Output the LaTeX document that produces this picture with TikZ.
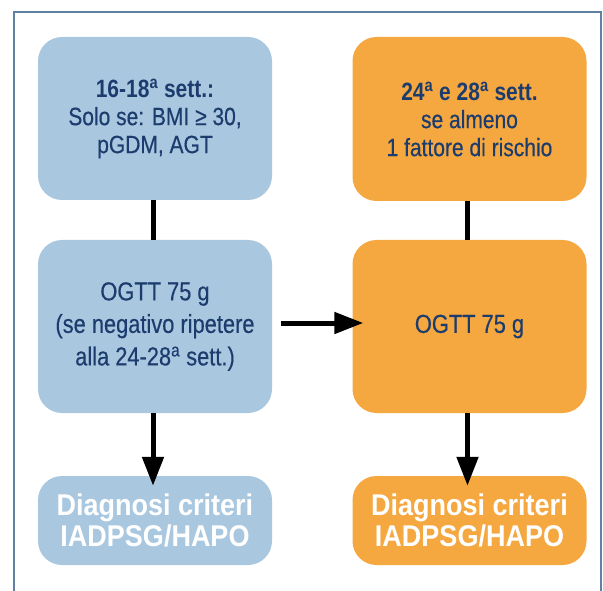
\documentclass[tikz,border=0pt]{standalone}
\usepackage{fontspec}
\setmainfont{Liberation Sans}[FakeStretch=0.84, UprightFeatures={FakeBold=0.4}]
\newfontfamily\diagfont{Liberation Sans}[FakeStretch=0.9]
\usetikzlibrary{arrows.meta}
\definecolor{boxblue}{HTML}{A9C8E0}
\definecolor{boxorange}{HTML}{F5A740}
\definecolor{txtnavy}{HTML}{1D3C6E}
\definecolor{framecol}{HTML}{5F82A3}
\tikzset{
  stepbox/.style={rounded corners=24pt, align=center, inner sep=0pt, text=txtnavy,
    font=\fontsize{25}{28}\selectfont, minimum width=234pt},
  bluebox/.style={stepbox, fill=boxblue},
  orangebox/.style={stepbox, fill=boxorange},
  endbox/.style={minimum height=89pt, text=white, font=\diagfont\fontsize{30}{31}\selectfont\bfseries},
  conn/.style={line width=5pt, black},
  arr/.style={conn, -{Triangle[length=29pt,width=21pt]}},
}
\begin{document}
\begin{tikzpicture}[x=1pt,y=-1pt]
\useasboundingbox (0,0) rectangle (603,591);
\begin{scope}
\clip (0,0) rectangle (603,591);
\draw[framecol, line width=2pt] (14,12) rectangle (601,620);
\end{scope}
% top row
\node[bluebox, minimum height=163pt] (b1) at (155,118.5)
  {\textbf{16-18\textsuperscript{a} sett.:}\\Solo se: BMI ≥ 30,\\pGDM, AGT};
\node[orangebox, minimum height=164pt] (o1) at (469.5,119)
  {\textbf{24\textsuperscript{a} e 28\textsuperscript{a} sett.}\\se almeno\\1 fattore di rischio};
% middle row
\node[bluebox, minimum height=173pt, font=\fontsize{26}{32.5}\selectfont] (b2) at (155,326.5)
  {OGTT 75 g\\(se negativo ripetere\\alla 24-28\textsuperscript{a} sett.)};
\node[orangebox, minimum height=173pt, font=\fontsize{26}{32.5}\selectfont] (o2) at (469.5,326.5) {OGTT 75 g};
% bottom row
\node[bluebox, endbox] (b3) at (155,520.5) {Diagnosi criteri\\IADPSG/HAPO};
\node[orangebox, endbox] (o3) at (469.5,520.5) {Diagnosi criteri\\IADPSG/HAPO};
% connectors
\draw[conn] ([xshift=-2pt]b1.south) -- ([xshift=-2pt]b2.north);
\draw[conn] ([xshift=-2pt]o1.south) -- ([xshift=-2pt]o2.north);
\draw[arr] ([xshift=9pt,yshift=3.5pt]b2.east) -- ([xshift=11pt,yshift=3.5pt]o2.west);
\draw[arr] ([xshift=-2pt]b2.south) -- ([xshift=-2pt,yshift=-10pt]b3.north);
\draw[arr] ([xshift=-2pt]o2.south) -- ([xshift=-2pt,yshift=-10pt]o3.north);
\end{tikzpicture}
\end{document}
